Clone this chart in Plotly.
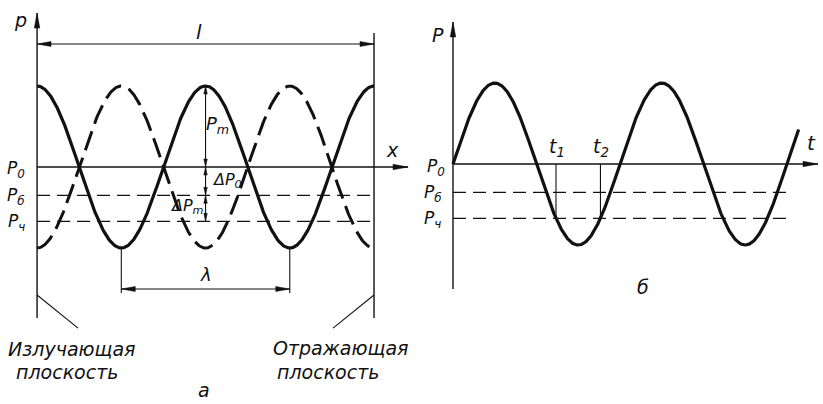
import numpy as np
import plotly.graph_objects as go

# ---- Panel "а": standing wave between the emitting and reflecting planes
# x in wavelengths, pressure in units of the amplitude P_m
TUBE_LENGTH = 2.0      # l
P0 = 0.0               # mean pressure
PM = 1.0               # pressure amplitude P_m
DP0 = 0.35             # ΔP0 = P0 - Pб
DPM = 0.32             # ΔPm = Pб - Pч
P_B = P0 - DP0         # Pб
P_CH = P_B - DPM       # Pч

# ---- Panel "б": pressure versus time, t in periods
T_END = 2.07

# axis extents (data units) for the two panels
XR1, YR1 = [-0.22, 4.665], [-2.926, 2.062]
XR2, YR2 = [-2.713, 2.216], [-2.963, 2.025]
W, H = 823, 404

INK = "#111111"
FONT = "DejaVu Sans"

x = np.linspace(0, TUBE_LENGTH, 600)
p_solid = P0 + PM * np.cos(2 * np.pi * x)
p_dash = P0 - PM * np.cos(2 * np.pi * x)

t = np.linspace(0, T_END, 600)
p_t = P0 + PM * np.sin(2 * np.pi * t)
phi = np.arcsin((P0 - P_CH) / PM) / (2 * np.pi)
t1 = 0.5 + phi
t2 = 1.0 - phi

fig = go.Figure()


def segs(pairs):
    xs, ys = [], []
    for (xa, ya), (xb, yb) in pairs:
        xs += [xa, xb, None]
        ys += [ya, yb, None]
    return xs, ys


def add_lines(pairs, width, dash="solid", panel=1):
    xs, ys = segs(pairs)
    fig.add_trace(go.Scatter(x=xs, y=ys, mode="lines",
                             line=dict(color=INK, width=width, dash=dash),
                             xaxis="x" if panel == 1 else "x2",
                             yaxis="y" if panel == 1 else "y2",
                             hoverinfo="skip"))


def add_heads(heads, panel=1):
    xr, yr = (XR1, YR1) if panel == 1 else (XR2, YR2)
    sx = W / (xr[1] - xr[0])
    sy = H / (yr[1] - yr[0])
    xs, ys = [], []
    for (tx, ty, dx, dy, L, Wd) in heads:
        # direction in screen units (dy positive = up)
        n = np.hypot(dx, dy)
        ux, uy = dx / n, dy / n
        bx, by = -ux * L, -uy * L
        px, py = -uy * Wd / 2, ux * Wd / 2
        pts = [(0, 0), (bx + px, by + py), (bx - px, by - py), (0, 0)]
        for a, b in pts:
            xs.append(tx + a / sx)
            ys.append(ty + b / sy)
        xs.append(None)
        ys.append(None)
    fig.add_trace(go.Scatter(x=xs, y=ys, mode="lines", fill="toself",
                             fillcolor=INK, line=dict(color=INK, width=0.5),
                             xaxis="x" if panel == 1 else "x2",
                             yaxis="y" if panel == 1 else "y2",
                             hoverinfo="skip"))


# ---------- panel а ----------
Y_TOP1, Y_BOT1 = 1.90, -1.864
Y_L = 1.519
X_AX1 = 2.202
Y_LAM, Y_LAM_END = -1.506, -1.556

add_lines([((0, Y_TOP1), (0, Y_BOT1)),
           ((TUBE_LENGTH, 1.654), (TUBE_LENGTH, Y_BOT1))], 1.4)
add_lines([((0, P0), (X_AX1, P0))], 1.6)
add_lines([((0, P_B), (TUBE_LENGTH, P_B)),
           ((0, P_CH), (TUBE_LENGTH, P_CH))], 1.3, dash="13px,7px")
add_lines([((0, Y_L), (TUBE_LENGTH, Y_L)),
           ((0.5, -PM), (0.5, Y_LAM_END)),
           ((1.5, -PM), (1.5, Y_LAM_END)),
           ((0.5, Y_LAM), (1.5, Y_LAM)),
           ((1.0, PM), (1.0, P_CH)),
           ((0, -1.58), (0.243, -1.99)),
           ((TUBE_LENGTH, -1.58), (1.757, -1.99))], 1.1)

fig.add_trace(go.Scatter(x=x, y=p_solid, mode="lines",
                         line=dict(color=INK, width=3.2), hoverinfo="skip"))
fig.add_trace(go.Scatter(x=x, y=p_dash, mode="lines",
                         line=dict(color=INK, width=3.0, dash="20px,8px"),
                         hoverinfo="skip"))

add_heads([(0, Y_TOP1, 0, 1, 15, 5.5),
           (X_AX1, P0, 1, 0, 15, 5.5),
           (0, Y_L, -1, 0, 14, 5),
           (TUBE_LENGTH, Y_L, 1, 0, 14, 5),
           (0.5, Y_LAM, -1, 0, 14, 5),
           (1.5, Y_LAM, 1, 0, 14, 5),
           (1.0, PM, 0, 1, 8, 3.5),
           (1.0, P0, 0, -1, 8, 3.5),
           (1.0, P0, 0, 1, 8, 3.5),
           (1.0, P_B, 0, -1, 8, 3.5),
           (1.0, P_B, 0, 1, 8, 3.5),
           (1.0, P_CH, 0, -1, 8, 3.5)])

# ---------- panel б ----------
Y_TOP2, Y_BOT2 = 1.753, -1.543
X_AX2 = 2.186
T_DASH = 2.03

add_lines([((0, Y_TOP2), (0, Y_BOT2))], 1.4, panel=2)
add_lines([((0, P0), (X_AX2, P0))], 1.6, panel=2)
add_lines([((0, P_B), (T_DASH, P_B)),
           ((0, P_CH), (T_DASH, P_CH))], 1.3, dash="13px,7px", panel=2)
add_lines([((t1, P0), (t1, P_CH)),
           ((t2, P0), (t2, P_CH))], 1.1, panel=2)
fig.add_trace(go.Scatter(x=t, y=p_t, mode="lines", xaxis="x2", yaxis="y2",
                         line=dict(color=INK, width=3.2), hoverinfo="skip"))
add_heads([(0, Y_TOP2, 0, 1, 15, 5.5),
           (X_AX2, P0, 1, 0, 15, 5.5)], panel=2)


# ---------- labels ----------
def label(txt, xx, yy, size=17, panel=1):
    fig.add_annotation(text=txt, x=xx, y=yy, showarrow=False,
                       xref="x" if panel == 1 else "x2",
                       yref="y" if panel == 1 else "y2",
                       font=dict(family=FONT, size=size, color=INK, style="italic"))


label("p", -0.10, 1.82, 19)
label("l", 0.961, 1.667, 20)
label("x", 2.107, 0.21, 19)
label("P<sub>0</sub>", -0.125, -0.03)
label("P<sub>б</sub>", -0.125, -0.37)
label("P<sub>ч</sub>", -0.125, -0.68)
label("P<sub>m</sub>", 1.07, 0.52, 18)
label("ΔP<sub>0</sub>", 1.13, -0.17, 16)
label("ΔP<sub>m</sub>", 0.89, -0.49, 16)
label("λ", 1.0, -1.333, 18)
label("Излучающая", 0.205, -2.245, 19)
label("плоскость", 0.18, -2.53, 19)
label("Отражающая", 1.80, -2.235, 19)
label("плоскость", 1.727, -2.53, 19)
label("а", 0.991, -2.75, 19)

label("P", -0.09, 1.59, 19, panel=2)
label("t", 2.15, 0.26, 20, panel=2)
label("P<sub>0</sub>", -0.10, -0.04, 17, panel=2)
label("P<sub>б</sub>", -0.12, -0.37, 17, panel=2)
label("P<sub>ч</sub>", -0.12, -0.69, 17, panel=2)
label("t<sub>1</sub>", t1 + 0.005, 0.2, 19, panel=2)
label("t<sub>2</sub>", t2 + 0.005, 0.2, 19, panel=2)
label("б", 1.138, -1.52, 19, panel=2)

fig.update_layout(
    width=W, height=H, margin=dict(l=0, r=0, t=0, b=0),
    paper_bgcolor="white", plot_bgcolor="white", showlegend=False,
    xaxis=dict(range=XR1, visible=False, fixedrange=True, domain=[0, 1]),
    yaxis=dict(range=YR1, visible=False, fixedrange=True, domain=[0, 1]),
    xaxis2=dict(range=XR2, visible=False, fixedrange=True, overlaying="x",
                anchor="y2"),
    yaxis2=dict(range=YR2, visible=False, fixedrange=True, overlaying="y",
                anchor="x2"),
)

fig.write_html("out.html")
